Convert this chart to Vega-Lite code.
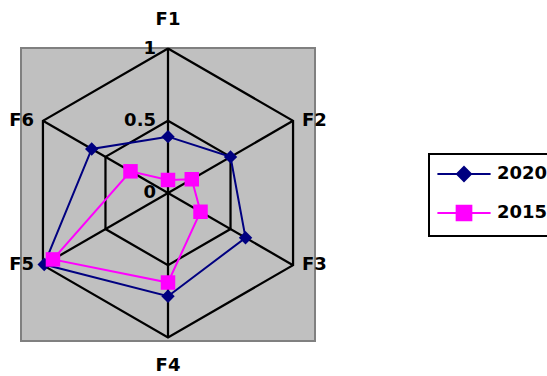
{
  "$schema": "https://vega.github.io/schema/vega-lite/v6.json",
  "width": 294,
  "height": 293,
  "autosize": "none",
  "padding": {"left": 21, "top": 48, "right": 232, "bottom": 35},
  "background": "white",
  "config": {
    "view": {"fill": "#C0C0C0", "stroke": "#808080", "strokeWidth": 2},
    "font": "DejaVu Sans"
  },
  "datasets": {
    "series": [
      {"series": "2020", "axis": "F1", "value": 0.39, "seq": 1},
      {"series": "2020", "axis": "F2", "value": 0.50, "seq": 2},
      {"series": "2020", "axis": "F3", "value": 0.62, "seq": 3},
      {"series": "2020", "axis": "F4", "value": 0.715, "seq": 4},
      {"series": "2020", "axis": "F5", "value": 0.99, "seq": 5},
      {"series": "2020", "axis": "F6", "value": 0.61, "seq": 6},
      {"series": "2020", "axis": "F1", "value": 0.39, "seq": 7},
      {"series": "2015", "axis": "F1", "value": 0.09, "seq": 1},
      {"series": "2015", "axis": "F2", "value": 0.19, "seq": 2},
      {"series": "2015", "axis": "F3", "value": 0.26, "seq": 3},
      {"series": "2015", "axis": "F4", "value": 0.62, "seq": 4},
      {"series": "2015", "axis": "F5", "value": 0.92, "seq": 5},
      {"series": "2015", "axis": "F6", "value": 0.30, "seq": 6},
      {"series": "2015", "axis": "F1", "value": 0.09, "seq": 7}
    ],
    "grid": [
      {"level": 0.5, "axis": "F1", "seq": 1},
      {"level": 0.5, "axis": "F2", "seq": 2},
      {"level": 0.5, "axis": "F3", "seq": 3},
      {"level": 0.5, "axis": "F4", "seq": 4},
      {"level": 0.5, "axis": "F5", "seq": 5},
      {"level": 0.5, "axis": "F6", "seq": 6},
      {"level": 0.5, "axis": "F1", "seq": 7},
      {"level": 1, "axis": "F1", "seq": 1},
      {"level": 1, "axis": "F2", "seq": 2},
      {"level": 1, "axis": "F3", "seq": 3},
      {"level": 1, "axis": "F4", "seq": 4},
      {"level": 1, "axis": "F5", "seq": 5},
      {"level": 1, "axis": "F6", "seq": 6},
      {"level": 1, "axis": "F1", "seq": 7}
    ],
    "axes": [
      {"axis": "F1"}, {"axis": "F2"}, {"axis": "F3"},
      {"axis": "F4"}, {"axis": "F5"}, {"axis": "F6"}
    ],
    "ticks": [
      {"label": "0", "value": 0},
      {"label": "0.5", "value": 0.5},
      {"label": "1", "value": 1}
    ]
  },
  "layer": [
    {
      "data": {"name": "grid"},
      "transform": [
        {"calculate": "(toNumber(substring(datum.axis, 1)) - 1) * PI / 3", "as": "ang"},
        {"calculate": "datum.level * sin(datum.ang)", "as": "gx"},
        {"calculate": "datum.level * cos(datum.ang)", "as": "gy"}
      ],
      "mark": {"type": "line", "color": "black", "strokeWidth": 2.25},
      "encoding": {
        "x": {"field": "gx", "type": "quantitative", "scale": {"domain": [-1.018, 1.018], "nice": false, "zero": false}, "axis": null},
        "y": {"field": "gy", "type": "quantitative", "scale": {"domain": [-1.025, 1.004], "nice": false, "zero": false}, "axis": null},
        "detail": {"field": "level", "type": "nominal"},
        "order": {"field": "seq", "type": "quantitative"}
      }
    },
    {
      "data": {"name": "axes"},
      "transform": [
        {"calculate": "(toNumber(substring(datum.axis, 1)) - 1) * PI / 3", "as": "ang"},
        {"calculate": "sin(datum.ang)", "as": "vx"},
        {"calculate": "cos(datum.ang)", "as": "vy"},
        {"calculate": "0", "as": "c0"}
      ],
      "mark": {"type": "rule", "color": "black", "strokeWidth": 2.25},
      "encoding": {
        "x": {"field": "c0", "type": "quantitative"},
        "y": {"field": "c0", "type": "quantitative"},
        "x2": {"field": "vx"},
        "y2": {"field": "vy"}
      }
    },
    {
      "data": {"name": "series"},
      "transform": [
        {"calculate": "(toNumber(substring(datum.axis, 1)) - 1) * PI / 3", "as": "ang"},
        {"calculate": "datum.value * sin(datum.ang)", "as": "px"},
        {"calculate": "datum.value * cos(datum.ang)", "as": "py"}
      ],
      "mark": {"type": "line", "strokeWidth": 2},
      "encoding": {
        "x": {"field": "px", "type": "quantitative"},
        "y": {"field": "py", "type": "quantitative"},
        "order": {"field": "seq", "type": "quantitative"},
        "color": {
          "field": "series",
          "type": "nominal",
          "scale": {"domain": ["2020", "2015"], "range": ["#000080", "#FF00FF"]},
          "legend": {
            "orient": "none",
            "legendX": 408,
            "legendY": 106,
            "title": null,
            "strokeColor": "black",
            "padding": 11,
            "symbolSize": 196,
            "symbolStrokeWidth": 2,
            "symbolOffset": 15,
            "labelOffset": 24,
            "rowPadding": 16,
            "labelFont": "DejaVu Sans",
            "labelFontSize": 18,
            "labelFontWeight": "bold",
            "labelColor": "black",
            "encode": {
              "legend": {"update": {"strokeWidth": {"value": 2}}},
              "symbols": {
                "update": {
                  "shape": {"signal": "datum.value === '2020' ? 'M-3.8,0L3.8,0M0,-1L1,0L0,1L-1,0Z' : 'M-3.8,0L3.8,0M-1.05,-1.05L1.05,-1.05L1.05,1.05L-1.05,1.05Z'"},
                  "fill": {"signal": "scale('color', datum.value)"},
                  "stroke": {"signal": "scale('color', datum.value)"},
                  "strokeWidth": {"value": 2}
                }
              }
            }
          }
        }
      }
    },
    {
      "data": {"name": "series"},
      "transform": [
        {"filter": "datum.seq < 7 && datum.series === '2020'"},
        {"calculate": "(toNumber(substring(datum.axis, 1)) - 1) * PI / 3", "as": "ang"},
        {"calculate": "datum.value * sin(datum.ang)", "as": "px"},
        {"calculate": "datum.value * cos(datum.ang)", "as": "py"}
      ],
      "mark": {"type": "point", "shape": "diamond", "filled": true, "opacity": 1, "size": 180, "color": "#000080"},
      "encoding": {
        "x": {"field": "px", "type": "quantitative"},
        "y": {"field": "py", "type": "quantitative"}
      }
    },
    {
      "data": {"name": "series"},
      "transform": [
        {"filter": "datum.seq < 7 && datum.series === '2015'"},
        {"calculate": "(toNumber(substring(datum.axis, 1)) - 1) * PI / 3", "as": "ang"},
        {"calculate": "datum.value * sin(datum.ang)", "as": "px"},
        {"calculate": "datum.value * cos(datum.ang)", "as": "py"}
      ],
      "mark": {"type": "point", "shape": "square", "filled": true, "opacity": 1, "size": 210, "color": "#FF00FF"},
      "encoding": {
        "x": {"field": "px", "type": "quantitative"},
        "y": {"field": "py", "type": "quantitative"}
      }
    },
    {
      "data": {"name": "axes"},
      "transform": [
        {"calculate": "(toNumber(substring(datum.axis, 1)) - 1) * PI / 3", "as": "ang"},
        {"calculate": "1.17 * sin(datum.ang)", "as": "lx"},
        {"calculate": "cos(datum.ang) * (abs(cos(datum.ang)) > 0.9 ? 1.2 : 1.0)", "as": "ly"}
      ],
      "mark": {"type": "text", "font": "DejaVu Sans", "fontSize": 18, "fontWeight": "bold", "color": "black", "align": "center", "baseline": "middle"},
      "encoding": {
        "x": {"field": "lx", "type": "quantitative"},
        "y": {"field": "ly", "type": "quantitative"},
        "text": {"field": "axis"}
      }
    },
    {
      "data": {"name": "ticks"},
      "transform": [{"calculate": "0", "as": "c0"}],
      "mark": {"type": "text", "font": "DejaVu Sans", "fontSize": 18, "fontWeight": "bold", "color": "black", "align": "right", "baseline": "middle", "dx": -12},
      "encoding": {
        "x": {"field": "c0", "type": "quantitative"},
        "y": {"field": "value", "type": "quantitative"},
        "text": {"field": "label"}
      }
    }
  ]
}
